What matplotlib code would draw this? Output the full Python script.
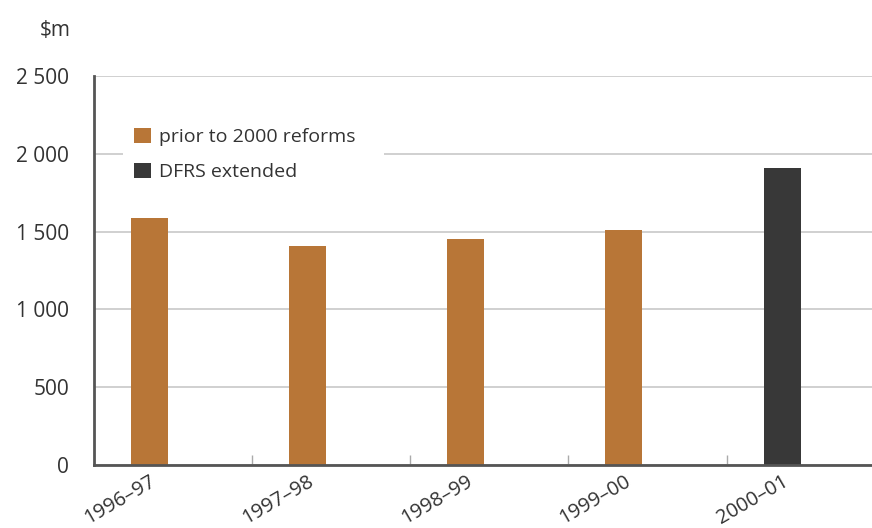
import matplotlib.pyplot as plt
from matplotlib.ticker import FuncFormatter, MultipleLocator, FixedLocator
from matplotlib.patches import Patch, Rectangle

years = ['1996–97', '1997–98', '1998–99', '1999–00', '2000–01']
prior_reforms = [1587, 1407, 1452, 1510, None]
dfrs_extended = [None, None, None, None, 1909]

orange = '#b87637'
dark = '#383838'
axis_grey = '#555555'

plt.rcParams['font.family'] = ['Open Sans', 'DejaVu Sans']

fig = plt.figure(figsize=(8.72, 5.28), dpi=100)
ax = fig.add_axes([94 / 872, 63 / 528, 1 - 94 / 872, 389 / 528])

width = 0.234
offset = -0.149
for i, (a, b) in enumerate(zip(prior_reforms, dfrs_extended)):
    if a is not None:
        ax.bar(i + offset, a, width, color=orange, zorder=3)
    if b is not None:
        ax.bar(i + offset, b, width, color=dark, zorder=3)

ax.set_xlim(-0.5, 4.42)
ax.set_ylim(0, 2500)

ax.yaxis.set_major_locator(MultipleLocator(500))
ax.yaxis.set_major_formatter(FuncFormatter(lambda v, p: f'{int(v):,}'.replace(',', ' ')))
ax.grid(axis='y', color='#c8c8c8', linewidth=1.2, zorder=0)

ax.set_xticks([i + offset for i in range(len(years))])
ax.set_xticklabels(years, rotation=30, ha='right', rotation_mode='anchor')
ax.xaxis.set_minor_locator(FixedLocator([0.5, 1.5, 2.5, 3.5]))
ax.tick_params(axis='x', which='major', length=0, pad=5, labelsize=14.5, labelcolor='#333333')
ax.tick_params(axis='x', which='minor', direction='in', length=7, color='#aaaaaa', width=1)
ax.tick_params(axis='y', length=0, pad=18, labelsize=15, labelcolor='#333333')

for side in ('top', 'right'):
    ax.spines[side].set_visible(False)
for side in ('left', 'bottom'):
    ax.spines[side].set_color(axis_grey)
    ax.spines[side].set_linewidth(2)
    ax.spines[side].set_zorder(4)

fig.text(40 / 872, 1 - 30 / 528, '$m', fontsize=15, color='#333333', va='center')

# white panel behind the legend, cutting the 2 000 gridline
ax.add_patch(Rectangle((0.0373, 0.74), 0.3355, 0.12, transform=ax.transAxes,
                       facecolor='white', edgecolor='none', zorder=2))

handles = [Patch(facecolor=orange, label='prior to 2000 reforms'),
           Patch(facecolor=dark, label='DFRS extended')]
leg = ax.legend(handles=handles, loc='upper left', bbox_to_anchor=(0.0373, 0.895),
                frameon=False, fontsize=14, handlelength=0.85, handleheight=0.85,
                handletextpad=0.45, labelspacing=0.85, borderpad=0.57, borderaxespad=0)
for t in leg.get_texts():
    t.set_color('#333333')
leg.set_zorder(5)

fig.savefig('out.png', dpi=100)
